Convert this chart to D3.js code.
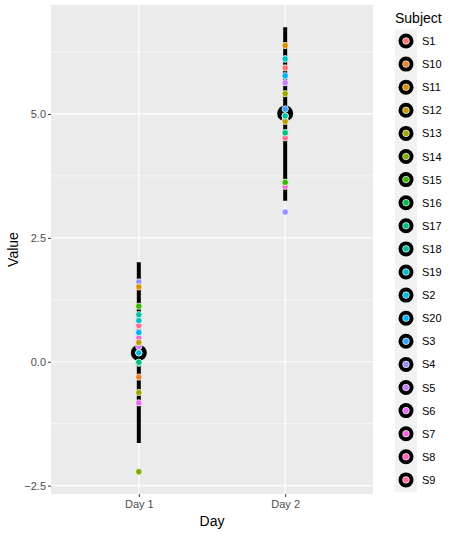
<!DOCTYPE html>
<html><head><meta charset="utf-8">
<script src="https://cdn.jsdelivr.net/npm/d3@7"></script>
<style>body{margin:0;background:#fff}svg{display:block}text{font-family:"Liberation Sans",Arial,sans-serif}</style>
</head><body>
<svg id="c" width="461" height="536"></svg>
<script>
// ---- data ----
const days = ["Day 1", "Day 2"];
// draw order (numeric subject order)
const subjectsNumeric = ["S1","S2","S3","S4","S5","S6","S7","S8","S9","S10","S11","S12","S13","S14","S15","S16","S17","S18","S19","S20"];
// legend / factor order
const subjectsLegend = ["S1","S10","S11","S12","S13","S14","S15","S16","S17","S18","S19","S2","S20","S3","S4","S5","S6","S7","S8","S9"];
const day1Values = [0.18,0.18,0.57,1.61,0.31,-0.83,0.48,0.72,0.73,-0.31,1.51,0.39,-0.62,-2.22,1.12,-0.03,-0.01,0.95,0.83,0.59];
const day2Values = [5.93,6.11,5.10,3.02,5.63,3.55,3.54,4.87,4.52,4.96,6.38,4.85,5.41,3.62,3.62,4.62,4.62,4.96,6.11,5.77];
const dayMeans = [0.18, 5.01];
const dayLow = [-1.64, 3.25];
const dayHigh = [2.01, 6.75];
const yTicks = [-2.5, 0, 2.5, 5.0];
const yMinor = [-1.25, 1.25, 3.75, 6.25];

// ---- layout ----
const svg = d3.select("#c");
const P = {l: 51, r: 373, t: 5, b: 494};

const x = d3.scalePoint().domain(days).range([P.l, P.r]).padding(0.6);
const allVals = day1Values.concat(day2Values, dayLow, dayHigh);
const ext = d3.extent(allVals);
const pad = (ext[1] - ext[0]) * 0.05;
const y = d3.scaleLinear().domain([ext[0] - pad, ext[1] + pad]).range([P.b, P.t]);

const hue = ["#F8766D","#EA8331","#D89000","#C09B00","#A3A500","#7CAE00","#39B600","#00BB4E","#00BF7D","#00C1A3","#00BFC4","#00BAE0","#00B0F6","#35A2FF","#9590FF","#C77CFF","#E76BF3","#FA62DB","#FF62BC","#FF6C91"];
const color = d3.scaleOrdinal().domain(subjectsLegend).range(hue);

// panel
svg.append("rect").attr("x", P.l).attr("y", P.t).attr("width", P.r - P.l).attr("height", P.b - P.t).attr("fill", "#EBEBEB");
const g = svg.append("g");
yMinor.forEach(v => g.append("line").attr("x1", P.l).attr("x2", P.r).attr("y1", y(v)).attr("y2", y(v)).attr("stroke", "#fff").attr("stroke-width", 0.6));
yTicks.forEach(v => g.append("line").attr("x1", P.l).attr("x2", P.r).attr("y1", y(v)).attr("y2", y(v)).attr("stroke", "#fff").attr("stroke-width", 1.2));
days.forEach(d => g.append("line").attr("x1", x(d)).attr("x2", x(d)).attr("y1", P.t).attr("y2", P.b).attr("stroke", "#fff").attr("stroke-width", 1.2));

// axes
const yAxis = d3.axisLeft(y).tickValues(yTicks).tickFormat(d3.format(".1f")).tickSize(3).tickPadding(2);
const ya = svg.append("g").attr("transform", `translate(${P.l},0)`).call(yAxis);
ya.select(".domain").remove();
ya.selectAll("line").attr("stroke", "#333").attr("stroke-width", 1);
ya.selectAll("text").attr("fill", "#4D4D4D").style("font-size", "11px").style("font-family", "Liberation Sans, Arial, sans-serif");

const xAxis = d3.axisBottom(x).tickSize(3).tickPadding(3);
const xa = svg.append("g").attr("transform", `translate(0,${P.b})`).call(xAxis);
xa.select(".domain").remove();
xa.selectAll("line").attr("stroke", "#333").attr("stroke-width", 1);
xa.selectAll("text").attr("fill", "#4D4D4D").style("font-size", "11px").style("font-family", "Liberation Sans, Arial, sans-serif");

svg.append("text").attr("x", (P.l + P.r) / 2).attr("y", 526).attr("text-anchor", "middle").style("font-size", "14px").attr("fill", "#000").text("Day");
svg.append("text").attr("transform", `translate(18,${(P.t + P.b) / 2}) rotate(-90)`).attr("text-anchor", "middle").style("font-size", "14px").attr("fill", "#000").text("Value");

// summary: error bars + means
days.forEach((d, i) => {
  svg.append("line").attr("x1", x(d)).attr("x2", x(d)).attr("y1", y(dayLow[i])).attr("y2", y(dayHigh[i])).attr("stroke", "#000").attr("stroke-width", 4);
  svg.append("circle").attr("cx", x(d)).attr("cy", y(dayMeans[i])).attr("r", 8).attr("fill", "#000");
});

// points
const pts = [];
subjectsNumeric.forEach((s, i) => { pts.push({day: "Day 1", s, v: day1Values[i]}); });
subjectsNumeric.forEach((s, i) => { pts.push({day: "Day 2", s, v: day2Values[i]}); });
svg.append("g").selectAll("circle").data(pts).join("circle")
  .attr("cx", d => x(d.day)).attr("cy", d => y(d.v)).attr("r", 3.2)
  .attr("fill", d => color(d.s)).attr("stroke", "#fff").attr("stroke-width", 0.7);

// legend
const L = svg.append("g");
L.append("text").attr("x", 395).attr("y", 23).style("font-size", "14px").attr("fill", "#000").text("Subject");
const step = 23.1, top0 = 41;
subjectsLegend.forEach((s, i) => {
  const cy = top0 + i * step;
  L.append("rect").attr("x", 395).attr("y", cy - step / 2).attr("width", 22).attr("height", step + 0.3).attr("fill", "#F2F2F2");
});
subjectsLegend.forEach((s, i) => {
  const cy = top0 + i * step;
  L.append("circle").attr("cx", 406).attr("cy", cy).attr("r", 7.5).attr("fill", "#000");
  L.append("circle").attr("cx", 406).attr("cy", cy).attr("r", 3.3).attr("fill", color(s)).attr("stroke", "#fff").attr("stroke-width", 0.7);
  L.append("text").attr("x", 422).attr("y", cy + 4).style("font-size", "11px").attr("fill", "#000").text(s);
});
</script>
</body></html>
